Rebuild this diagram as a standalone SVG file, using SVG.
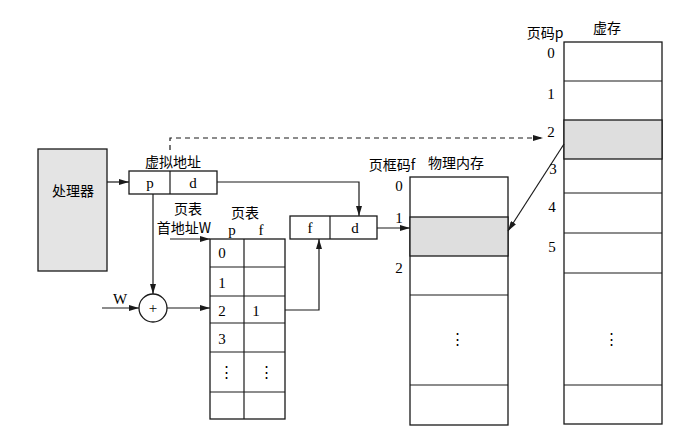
<svg xmlns="http://www.w3.org/2000/svg" width="697" height="445" viewBox="0 0 697 445">
<style>
.b{fill:#fff;stroke:#1a1a1a;stroke-width:1.3}
.g{fill:#dedede;stroke:#1a1a1a;stroke-width:1.3}
.l{fill:none;stroke:#1a1a1a;stroke-width:1.2}
.d{fill:none;stroke:#1a1a1a;stroke-width:1.2;stroke-dasharray:5,4}
.t{font-family:"Liberation Serif","Noto Sans CJK SC",serif;font-size:15px;fill:#000}
.c{font-family:"Noto Sans CJK SC","Liberation Serif",serif;font-size:14px;fill:#000}
.m{text-anchor:middle}
</style>
<defs>
<marker id="a" viewBox="0 0 10 6" refX="10" refY="3" markerWidth="10" markerHeight="6" orient="auto" markerUnits="userSpaceOnUse">
<path d="M0,0 L10,3 L0,6 Z" fill="#1a1a1a"/>
</marker>
</defs>
<rect width="697" height="445" fill="#fff"/>

<g id="processor">
<rect x="38" y="149" width="69" height="122" class="g" style="fill:#e4e4e4"/>
<text x="73" y="196" class="c m" font-size="15">处理器</text>
</g>

<g id="vaddr">
<text x="173" y="167" class="c m">虚拟地址</text>
<rect x="129" y="171" width="88" height="23" class="b"/>
<line x1="170" y1="171" x2="170" y2="194" class="l"/>
<text x="150" y="188" class="t m">p</text>
<text x="193" y="188" class="t m">d</text>
</g>

<g id="adder">
<circle cx="153" cy="308" r="14" class="b"/>
<text x="153" y="313" class="t m" font-size="12">+</text>
</g>

<g id="pagetable">
<text x="188" y="214" class="c m" font-size="13">页表</text>
<text x="184" y="233" class="c m" font-size="13">首地址W</text>
<text x="245" y="218" class="c m">页表</text>
<text x="232" y="235" class="t m">p</text>
<text x="261" y="235" class="t m">f</text>
<rect x="210" y="239" width="75" height="180" class="b"/>
<line x1="244" y1="239" x2="244" y2="419" class="l"/>
<line x1="210" y1="267" x2="285" y2="267" class="l"/>
<line x1="210" y1="296" x2="285" y2="296" class="l"/>
<line x1="210" y1="323" x2="285" y2="323" class="l"/>
<line x1="210" y1="352" x2="285" y2="352" class="l"/>
<line x1="210" y1="392" x2="285" y2="392" class="l"/>
<text x="222" y="258" class="t m">0</text>
<text x="222" y="288" class="t m">1</text>
<text x="222" y="316" class="t m">2</text>
<text x="256" y="316" class="t m">1</text>
<text x="222" y="344" class="t m">3</text>
<text x="226" y="377" class="t m">⋮</text>
<text x="266" y="377" class="t m">⋮</text>
</g>

<g id="paddr">
<rect x="290" y="216" width="87" height="23" class="b"/>
<line x1="330" y1="216" x2="330" y2="239" class="l"/>
<text x="310" y="233" class="t m">f</text>
<text x="355" y="233" class="t m">d</text>
</g>

<g id="physmem">
<text x="392" y="170" class="c m">页框码f</text>
<text x="456" y="168" class="c m">物理内存</text>
<rect x="410" y="177" width="98" height="248" class="b"/>
<rect x="410" y="217" width="98" height="39" class="g"/>
<line x1="410" y1="295" x2="508" y2="295" class="l"/>
<line x1="410" y1="385" x2="508" y2="385" class="l"/>
<text x="399" y="191" class="t m">0</text>
<text x="399" y="223" class="t m">1</text>
<text x="399" y="273" class="t m">2</text>
<text x="457" y="344" class="t m">⋮</text>
</g>

<g id="virtmem">
<text x="545" y="38" class="c m">页码p</text>
<text x="607" y="33" class="c m">虚存</text>
<rect x="564" y="42" width="98" height="382" class="b"/>
<line x1="564" y1="81" x2="662" y2="81" class="l"/>
<rect x="564" y="120" width="98" height="39" class="g"/>
<line x1="564" y1="193" x2="662" y2="193" class="l"/>
<line x1="564" y1="233" x2="662" y2="233" class="l"/>
<line x1="564" y1="273" x2="662" y2="273" class="l"/>
<line x1="564" y1="385" x2="662" y2="385" class="l"/>
<text x="551" y="58" class="t m">0</text>
<text x="551" y="99" class="t m">1</text>
<text x="551" y="137" class="t m">2</text>
<text x="553" y="174" class="t m">3</text>
<text x="552" y="212" class="t m">4</text>
<text x="552" y="252" class="t m">5</text>
<text x="611" y="344" class="t m">⋮</text>
</g>

<g id="connectors">
<line x1="107" y1="182" x2="129" y2="182" class="l" marker-end="url(#a)"/>
<polyline points="217,182 359,182 359,216" class="l" marker-end="url(#a)"/>
<polyline points="170,150 170,138 543,138" class="d" marker-end="url(#a)"/>
<line x1="153" y1="194" x2="153" y2="294" class="l" marker-end="url(#a)"/>
<line x1="170" y1="239" x2="210" y2="239" class="l" marker-end="url(#a)"/>
<line x1="102" y1="308" x2="139" y2="308" class="l" marker-end="url(#a)"/>
<text x="120" y="304" class="t m">W</text>
<line x1="167" y1="308" x2="210" y2="308" class="l" marker-end="url(#a)"/>
<polyline points="285,310 319,310 319,239" class="l" marker-end="url(#a)"/>
<line x1="377" y1="228" x2="410" y2="228" class="l" marker-end="url(#a)"/>
<line x1="564" y1="144" x2="508" y2="231" class="l" marker-end="url(#a)"/>
</g>
</svg>
